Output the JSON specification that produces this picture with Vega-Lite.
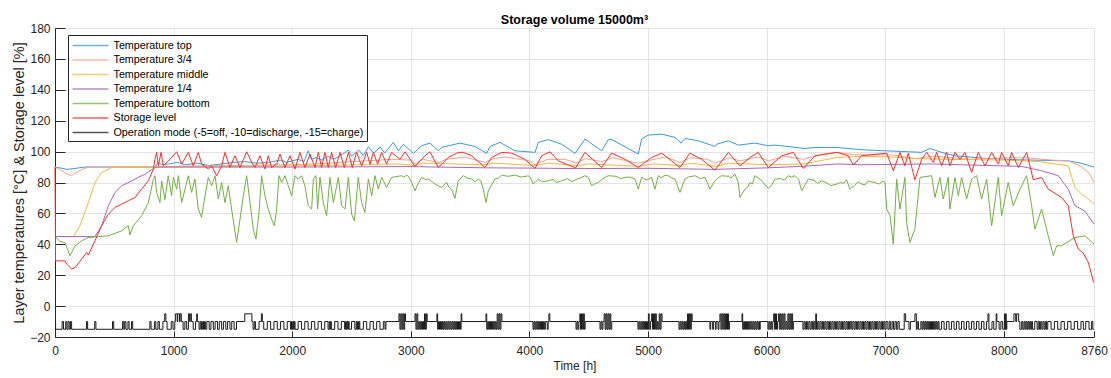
{
"$schema": "https://vega.github.io/schema/vega-lite/v6.json",
"width": 1039, "height": 309,
"autosize": {"type": "none"},
"padding": {"left": 55, "top": 28, "right": 17, "bottom": 41},
"background": "white",
"title": {"text": "Storage volume 15000m³", "font": "Liberation Sans", "fontSize": 12.5, "fontWeight": "bold", "color": "#000000", "anchor": "middle", "offset": 5, "dy": 9},
"config": {
  "view": {"stroke": null},
  "font": "Liberation Sans",
  "axis": {"domainColor": "#262626", "tickColor": "#262626", "labelColor": "#262626", "titleColor": "#262626", "labelFont": "Liberation Sans", "titleFont": "Liberation Sans", "labelFontSize": 12, "titleFontSize": 12, "titleFontWeight": "normal", "gridColor": "#e4e4e4", "gridWidth": 1, "domainWidth": 1, "tickWidth": 1}
},
"datasets": {
"temps": [
{"t":0,"s":"top","v":90},{"t":40,"s":"top","v":89.5},{"t":100,"s":"top","v":88.5},{"t":160,"s":"top","v":89},{"t":250,"s":"top","v":90},{"t":840,"s":"top","v":90},{"t":870,"s":"top","v":93},{"t":900,"s":"top","v":91.5},{"t":960,"s":"top","v":92},{"t":1030,"s":"top","v":93},{"t":1100,"s":"top","v":91.5},{"t":1200,"s":"top","v":92.5},{"t":1300,"s":"top","v":91},{"t":1400,"s":"top","v":92},{"t":1500,"s":"top","v":93},{"t":1600,"s":"top","v":93.5},{"t":1700,"s":"top","v":92.5},{"t":1800,"s":"top","v":93},{"t":1900,"s":"top","v":94.5},{"t":1950,"s":"top","v":93},{"t":2050,"s":"top","v":95},{"t":2100,"s":"top","v":93.5},{"t":2135,"s":"top","v":100.5},{"t":2160,"s":"top","v":95},{"t":2200,"s":"top","v":96},{"t":2250,"s":"top","v":94.5},{"t":2300,"s":"top","v":97},{"t":2350,"s":"top","v":95},{"t":2420,"s":"top","v":98},{"t":2473,"s":"top","v":101},{"t":2500,"s":"top","v":97},{"t":2560,"s":"top","v":101},{"t":2600,"s":"top","v":97.5},{"t":2642,"s":"top","v":103},{"t":2690,"s":"top","v":99},{"t":2740,"s":"top","v":103},{"t":2780,"s":"top","v":99},{"t":2852,"s":"top","v":106},{"t":2895,"s":"top","v":100.5},{"t":2937,"s":"top","v":104.8},{"t":3021,"s":"top","v":98.8},{"t":3091,"s":"top","v":103.8},{"t":3161,"s":"top","v":105.5},{"t":3232,"s":"top","v":100.5},{"t":3260,"s":"top","v":102.7},{"t":3414,"s":"top","v":105.5},{"t":3541,"s":"top","v":103.3},{"t":3639,"s":"top","v":98.8},{"t":3667,"s":"top","v":103.3},{"t":3752,"s":"top","v":106},{"t":3878,"s":"top","v":100.5},{"t":4047,"s":"top","v":99.5},{"t":4075,"s":"top","v":106},{"t":4159,"s":"top","v":107.7},{"t":4271,"s":"top","v":104.8},{"t":4384,"s":"top","v":98.8},{"t":4468,"s":"top","v":108.1},{"t":4609,"s":"top","v":100.5},{"t":4665,"s":"top","v":107.7},{"t":4690,"s":"top","v":108},{"t":4918,"s":"top","v":98.4},{"t":4946,"s":"top","v":108.1},{"t":5002,"s":"top","v":110.7},{"t":5115,"s":"top","v":111.3},{"t":5227,"s":"top","v":109.2},{"t":5278,"s":"top","v":105.5},{"t":5311,"s":"top","v":108.5},{"t":5424,"s":"top","v":107},{"t":5508,"s":"top","v":104.8},{"t":5564,"s":"top","v":103.3},{"t":5580,"s":"top","v":104.8},{"t":5677,"s":"top","v":107},{"t":5761,"s":"top","v":104.2},{"t":5901,"s":"top","v":105.5},{"t":6014,"s":"top","v":103.8},{"t":6070,"s":"top","v":104.2},{"t":6180,"s":"top","v":103.3},{"t":6323,"s":"top","v":102},{"t":6407,"s":"top","v":102.7},{"t":6593,"s":"top","v":102.7},{"t":6800,"s":"top","v":101.2},{"t":7000,"s":"top","v":100.5},{"t":7138,"s":"top","v":100.1},{"t":7307,"s":"top","v":99.5},{"t":7377,"s":"top","v":102},{"t":7475,"s":"top","v":99.5},{"t":7588,"s":"top","v":97.3},{"t":7841,"s":"top","v":95.6},{"t":8122,"s":"top","v":94.7},{"t":8543,"s":"top","v":94},{"t":8650,"s":"top","v":92.5},{"t":8760,"s":"top","v":90},
{"t":0,"s":"3/4","v":90},{"t":40,"s":"3/4","v":88.5},{"t":100,"s":"3/4","v":85.5},{"t":140,"s":"3/4","v":84.4},{"t":200,"s":"3/4","v":87.5},{"t":280,"s":"3/4","v":90},{"t":840,"s":"3/4","v":90},{"t":1000,"s":"3/4","v":90.5},{"t":1500,"s":"3/4","v":91},{"t":2000,"s":"3/4","v":91.5},{"t":2200,"s":"3/4","v":92},{"t":2500,"s":"3/4","v":93.5},{"t":2850,"s":"3/4","v":95},{"t":3000,"s":"3/4","v":94.5},{"t":3035,"s":"3/4","v":92},{"t":3100,"s":"3/4","v":95},{"t":3232,"s":"3/4","v":93},{"t":3300,"s":"3/4","v":95},{"t":3450,"s":"3/4","v":96.5},{"t":3625,"s":"3/4","v":93},{"t":3700,"s":"3/4","v":95.5},{"t":3800,"s":"3/4","v":96.5},{"t":4000,"s":"3/4","v":94},{"t":4047,"s":"3/4","v":91.5},{"t":4150,"s":"3/4","v":95},{"t":4300,"s":"3/4","v":95},{"t":4401,"s":"3/4","v":92.5},{"t":4470,"s":"3/4","v":95.5},{"t":4609,"s":"3/4","v":93.5},{"t":4700,"s":"3/4","v":96},{"t":4918,"s":"3/4","v":92.5},{"t":5050,"s":"3/4","v":95},{"t":5150,"s":"3/4","v":96.5},{"t":5269,"s":"3/4","v":93},{"t":5360,"s":"3/4","v":96},{"t":5500,"s":"3/4","v":95},{"t":5564,"s":"3/4","v":92.5},{"t":5680,"s":"3/4","v":96},{"t":5775,"s":"3/4","v":94},{"t":5930,"s":"3/4","v":96.5},{"t":6014,"s":"3/4","v":94},{"t":6150,"s":"3/4","v":97},{"t":6309,"s":"3/4","v":95},{"t":6450,"s":"3/4","v":98},{"t":6593,"s":"3/4","v":99.5},{"t":6731,"s":"3/4","v":98},{"t":7068,"s":"3/4","v":97.8},{"t":7250,"s":"3/4","v":95.5},{"t":7400,"s":"3/4","v":97},{"t":7728,"s":"3/4","v":95},{"t":8000,"s":"3/4","v":96},{"t":8192,"s":"3/4","v":96},{"t":8400,"s":"3/4","v":94.5},{"t":8543,"s":"3/4","v":94},{"t":8650,"s":"3/4","v":90.5},{"t":8720,"s":"3/4","v":86},{"t":8760,"s":"3/4","v":80},
{"t":0,"s":"middle","v":45},{"t":155,"s":"middle","v":45},{"t":210,"s":"middle","v":52},{"t":281,"s":"middle","v":67},{"t":337,"s":"middle","v":80},{"t":393,"s":"middle","v":86.5},{"t":478,"s":"middle","v":89.7},{"t":520,"s":"middle","v":90},{"t":840,"s":"middle","v":90},{"t":1500,"s":"middle","v":90.3},{"t":2200,"s":"middle","v":91},{"t":2900,"s":"middle","v":92},{"t":3035,"s":"middle","v":91},{"t":3100,"s":"middle","v":92.5},{"t":3625,"s":"middle","v":91.5},{"t":3700,"s":"middle","v":92.5},{"t":4047,"s":"middle","v":91},{"t":4150,"s":"middle","v":92.5},{"t":4400,"s":"middle","v":91},{"t":4500,"s":"middle","v":92},{"t":4918,"s":"middle","v":90.5},{"t":5050,"s":"middle","v":92},{"t":5269,"s":"middle","v":91},{"t":5360,"s":"middle","v":92.5},{"t":5564,"s":"middle","v":90.5},{"t":5680,"s":"middle","v":92.5},{"t":6014,"s":"middle","v":91.5},{"t":6309,"s":"middle","v":92},{"t":6593,"s":"middle","v":96.2},{"t":6800,"s":"middle","v":97},{"t":7068,"s":"middle","v":96.5},{"t":7250,"s":"middle","v":95.5},{"t":7500,"s":"middle","v":95},{"t":8000,"s":"middle","v":94.5},{"t":8300,"s":"middle","v":93.5},{"t":8543,"s":"middle","v":90.8},{"t":8599,"s":"middle","v":76.8},{"t":8655,"s":"middle","v":72.5},{"t":8700,"s":"middle","v":70},{"t":8760,"s":"middle","v":66},
{"t":0,"s":"1/4","v":45},{"t":337,"s":"1/4","v":45},{"t":393,"s":"1/4","v":52},{"t":450,"s":"1/4","v":65},{"t":506,"s":"1/4","v":73.6},{"t":562,"s":"1/4","v":77.9},{"t":646,"s":"1/4","v":81},{"t":702,"s":"1/4","v":83.3},{"t":759,"s":"1/4","v":85.4},{"t":829,"s":"1/4","v":89},{"t":860,"s":"1/4","v":90},{"t":2000,"s":"1/4","v":90},{"t":3000,"s":"1/4","v":90.3},{"t":3625,"s":"1/4","v":89.5},{"t":4047,"s":"1/4","v":89.3},{"t":4401,"s":"1/4","v":89},{"t":5000,"s":"1/4","v":89.2},{"t":5564,"s":"1/4","v":88.5},{"t":6014,"s":"1/4","v":89.5},{"t":6309,"s":"1/4","v":90.5},{"t":6593,"s":"1/4","v":92},{"t":6800,"s":"1/4","v":91.5},{"t":7400,"s":"1/4","v":92},{"t":8150,"s":"1/4","v":90.4},{"t":8318,"s":"1/4","v":87.6},{"t":8459,"s":"1/4","v":84.4},{"t":8543,"s":"1/4","v":75.7},{"t":8599,"s":"1/4","v":65},{"t":8680,"s":"1/4","v":61.7},{"t":8760,"s":"1/4","v":53.1},
{"t":0,"s":"bottom","v":45},{"t":40,"s":"bottom","v":42},{"t":85,"s":"bottom","v":41},{"t":126,"s":"bottom","v":32.6},{"t":169,"s":"bottom","v":39},{"t":225,"s":"bottom","v":42.3},{"t":281,"s":"bottom","v":44.4},{"t":365,"s":"bottom","v":45},{"t":450,"s":"bottom","v":45.5},{"t":562,"s":"bottom","v":48.7},{"t":618,"s":"bottom","v":52},{"t":632,"s":"bottom","v":46},{"t":660,"s":"bottom","v":52},{"t":730,"s":"bottom","v":58.5},{"t":787,"s":"bottom","v":67},{"t":829,"s":"bottom","v":82},{"t":843,"s":"bottom","v":84.4},{"t":857,"s":"bottom","v":73.6},{"t":885,"s":"bottom","v":67},{"t":899,"s":"bottom","v":81},{"t":927,"s":"bottom","v":69},{"t":955,"s":"bottom","v":84.4},{"t":983,"s":"bottom","v":71.4},{"t":998,"s":"bottom","v":83.3},{"t":1026,"s":"bottom","v":75.7},{"t":1040,"s":"bottom","v":84.4},{"t":1068,"s":"bottom","v":67},{"t":1096,"s":"bottom","v":75.7},{"t":1124,"s":"bottom","v":84.4},{"t":1152,"s":"bottom","v":73.6},{"t":1180,"s":"bottom","v":82.2},{"t":1208,"s":"bottom","v":62.8},{"t":1236,"s":"bottom","v":57.4},{"t":1265,"s":"bottom","v":71.4},{"t":1293,"s":"bottom","v":83.3},{"t":1321,"s":"bottom","v":77.9},{"t":1349,"s":"bottom","v":84.4},{"t":1377,"s":"bottom","v":69.3},{"t":1405,"s":"bottom","v":80},{"t":1433,"s":"bottom","v":67},{"t":1461,"s":"bottom","v":77.9},{"t":1489,"s":"bottom","v":62.8},{"t":1531,"s":"bottom","v":41.2},{"t":1560,"s":"bottom","v":56.3},{"t":1588,"s":"bottom","v":71.4},{"t":1616,"s":"bottom","v":84.4},{"t":1644,"s":"bottom","v":67},{"t":1672,"s":"bottom","v":49.8},{"t":1694,"s":"bottom","v":43.4},{"t":1720,"s":"bottom","v":60.6},{"t":1742,"s":"bottom","v":84.4},{"t":1770,"s":"bottom","v":71.4},{"t":1798,"s":"bottom","v":62.8},{"t":1826,"s":"bottom","v":56.3},{"t":1849,"s":"bottom","v":52},{"t":1869,"s":"bottom","v":62.8},{"t":1888,"s":"bottom","v":84.4},{"t":1911,"s":"bottom","v":80},{"t":1939,"s":"bottom","v":84.4},{"t":1967,"s":"bottom","v":77.9},{"t":1995,"s":"bottom","v":71.4},{"t":2023,"s":"bottom","v":84.4},{"t":2051,"s":"bottom","v":82.2},{"t":2079,"s":"bottom","v":84.4},{"t":2107,"s":"bottom","v":77.9},{"t":2135,"s":"bottom","v":65},{"t":2164,"s":"bottom","v":62.8},{"t":2178,"s":"bottom","v":82.2},{"t":2200,"s":"bottom","v":84.4},{"t":2214,"s":"bottom","v":63},{"t":2234,"s":"bottom","v":83.3},{"t":2262,"s":"bottom","v":67},{"t":2290,"s":"bottom","v":58.5},{"t":2318,"s":"bottom","v":83.3},{"t":2347,"s":"bottom","v":67},{"t":2389,"s":"bottom","v":83.3},{"t":2417,"s":"bottom","v":65},{"t":2445,"s":"bottom","v":62.8},{"t":2473,"s":"bottom","v":83.3},{"t":2501,"s":"bottom","v":59.5},{"t":2524,"s":"bottom","v":55.2},{"t":2557,"s":"bottom","v":83.3},{"t":2585,"s":"bottom","v":67},{"t":2613,"s":"bottom","v":60.6},{"t":2642,"s":"bottom","v":82.2},{"t":2670,"s":"bottom","v":71.4},{"t":2698,"s":"bottom","v":84.4},{"t":2726,"s":"bottom","v":75.7},{"t":2754,"s":"bottom","v":83.3},{"t":2796,"s":"bottom","v":76.8},{"t":2838,"s":"bottom","v":83.3},{"t":2923,"s":"bottom","v":84.4},{"t":2940,"s":"bottom","v":83.5},{"t":2965,"s":"bottom","v":84.8},{"t":2980,"s":"bottom","v":84},{"t":3007,"s":"bottom","v":80},{"t":3035,"s":"bottom","v":74.6},{"t":3060,"s":"bottom","v":79},{"t":3091,"s":"bottom","v":83.3},{"t":3120,"s":"bottom","v":82},{"t":3147,"s":"bottom","v":82.2},{"t":3180,"s":"bottom","v":80.5},{"t":3204,"s":"bottom","v":79},{"t":3230,"s":"bottom","v":78},{"t":3260,"s":"bottom","v":76.8},{"t":3280,"s":"bottom","v":78.5},{"t":3302,"s":"bottom","v":80},{"t":3320,"s":"bottom","v":77},{"t":3344,"s":"bottom","v":75.7},{"t":3372,"s":"bottom","v":69.7},{"t":3400,"s":"bottom","v":81.1},{"t":3442,"s":"bottom","v":84.4},{"t":3470,"s":"bottom","v":83},{"t":3513,"s":"bottom","v":82.2},{"t":3540,"s":"bottom","v":80.5},{"t":3569,"s":"bottom","v":82.2},{"t":3590,"s":"bottom","v":81},{"t":3611,"s":"bottom","v":75.7},{"t":3634,"s":"bottom","v":67},{"t":3653,"s":"bottom","v":74.6},{"t":3709,"s":"bottom","v":82.2},{"t":3740,"s":"bottom","v":83},{"t":3766,"s":"bottom","v":84.8},{"t":3820,"s":"bottom","v":84},{"t":3878,"s":"bottom","v":84.8},{"t":3930,"s":"bottom","v":83.5},{"t":3990,"s":"bottom","v":84.3},{"t":4010,"s":"bottom","v":83},{"t":4032,"s":"bottom","v":79},{"t":4075,"s":"bottom","v":82.2},{"t":4110,"s":"bottom","v":80.5},{"t":4159,"s":"bottom","v":81.1},{"t":4200,"s":"bottom","v":82},{"t":4230,"s":"bottom","v":80},{"t":4271,"s":"bottom","v":81.1},{"t":4320,"s":"bottom","v":82.5},{"t":4360,"s":"bottom","v":80.5},{"t":4401,"s":"bottom","v":82.2},{"t":4430,"s":"bottom","v":83},{"t":4468,"s":"bottom","v":84.4},{"t":4496,"s":"bottom","v":83.3},{"t":4525,"s":"bottom","v":77.9},{"t":4550,"s":"bottom","v":79},{"t":4581,"s":"bottom","v":80},{"t":4620,"s":"bottom","v":82.5},{"t":4665,"s":"bottom","v":84.4},{"t":4730,"s":"bottom","v":84},{"t":4770,"s":"bottom","v":82.5},{"t":4806,"s":"bottom","v":83.3},{"t":4850,"s":"bottom","v":83.5},{"t":4890,"s":"bottom","v":82.2},{"t":4918,"s":"bottom","v":75.7},{"t":4946,"s":"bottom","v":83.3},{"t":4990,"s":"bottom","v":81.5},{"t":5030,"s":"bottom","v":83.3},{"t":5058,"s":"bottom","v":75.7},{"t":5087,"s":"bottom","v":84.4},{"t":5110,"s":"bottom","v":83},{"t":5140,"s":"bottom","v":84.5},{"t":5171,"s":"bottom","v":84.4},{"t":5200,"s":"bottom","v":83},{"t":5227,"s":"bottom","v":82.2},{"t":5269,"s":"bottom","v":73.6},{"t":5311,"s":"bottom","v":82.2},{"t":5340,"s":"bottom","v":83.5},{"t":5396,"s":"bottom","v":84.4},{"t":5440,"s":"bottom","v":82.5},{"t":5480,"s":"bottom","v":83.3},{"t":5500,"s":"bottom","v":80},{"t":5522,"s":"bottom","v":75.7},{"t":5564,"s":"bottom","v":81.1},{"t":5590,"s":"bottom","v":83},{"t":5620,"s":"bottom","v":84.4},{"t":5680,"s":"bottom","v":84},{"t":5700,"s":"bottom","v":83},{"t":5733,"s":"bottom","v":85.4},{"t":5761,"s":"bottom","v":80},{"t":5775,"s":"bottom","v":70.3},{"t":5817,"s":"bottom","v":75.7},{"t":5840,"s":"bottom","v":77},{"t":5859,"s":"bottom","v":80},{"t":5880,"s":"bottom","v":79},{"t":5901,"s":"bottom","v":84.4},{"t":5944,"s":"bottom","v":82.2},{"t":5970,"s":"bottom","v":80},{"t":6014,"s":"bottom","v":76.2},{"t":6040,"s":"bottom","v":78},{"t":6070,"s":"bottom","v":82.2},{"t":6120,"s":"bottom","v":82.5},{"t":6150,"s":"bottom","v":81.5},{"t":6182,"s":"bottom","v":84.4},{"t":6210,"s":"bottom","v":83.5},{"t":6239,"s":"bottom","v":84.4},{"t":6270,"s":"bottom","v":82},{"t":6295,"s":"bottom","v":74.6},{"t":6320,"s":"bottom","v":78},{"t":6351,"s":"bottom","v":82.2},{"t":6400,"s":"bottom","v":81.5},{"t":6430,"s":"bottom","v":79.5},{"t":6463,"s":"bottom","v":81.1},{"t":6500,"s":"bottom","v":80},{"t":6540,"s":"bottom","v":78},{"t":6593,"s":"bottom","v":79},{"t":6620,"s":"bottom","v":80},{"t":6650,"s":"bottom","v":79.5},{"t":6674,"s":"bottom","v":81.8},{"t":6702,"s":"bottom","v":75.7},{"t":6740,"s":"bottom","v":78},{"t":6770,"s":"bottom","v":80.5},{"t":6801,"s":"bottom","v":79},{"t":6830,"s":"bottom","v":78.5},{"t":6857,"s":"bottom","v":81.1},{"t":6880,"s":"bottom","v":80.5},{"t":6913,"s":"bottom","v":80},{"t":6950,"s":"bottom","v":79},{"t":6980,"s":"bottom","v":81},{"t":6998,"s":"bottom","v":80},{"t":7012,"s":"bottom","v":62.8},{"t":7040,"s":"bottom","v":58.5},{"t":7068,"s":"bottom","v":40.1},{"t":7096,"s":"bottom","v":82.2},{"t":7124,"s":"bottom","v":62.8},{"t":7166,"s":"bottom","v":83.3},{"t":7180,"s":"bottom","v":54.1},{"t":7208,"s":"bottom","v":41.2},{"t":7250,"s":"bottom","v":49.8},{"t":7293,"s":"bottom","v":83.3},{"t":7391,"s":"bottom","v":84.4},{"t":7419,"s":"bottom","v":70.3},{"t":7461,"s":"bottom","v":83.3},{"t":7489,"s":"bottom","v":69.3},{"t":7531,"s":"bottom","v":83.3},{"t":7545,"s":"bottom","v":62.8},{"t":7588,"s":"bottom","v":83.3},{"t":7616,"s":"bottom","v":71.4},{"t":7644,"s":"bottom","v":83.3},{"t":7686,"s":"bottom","v":69.3},{"t":7728,"s":"bottom","v":82.2},{"t":7770,"s":"bottom","v":84.4},{"t":7812,"s":"bottom","v":69.3},{"t":7855,"s":"bottom","v":82.2},{"t":7897,"s":"bottom","v":52},{"t":7953,"s":"bottom","v":83.3},{"t":7981,"s":"bottom","v":58.5},{"t":8037,"s":"bottom","v":80},{"t":8079,"s":"bottom","v":65},{"t":8136,"s":"bottom","v":75.7},{"t":8192,"s":"bottom","v":84.4},{"t":8234,"s":"bottom","v":65},{"t":8262,"s":"bottom","v":49.8},{"t":8318,"s":"bottom","v":62.8},{"t":8374,"s":"bottom","v":45.5},{"t":8417,"s":"bottom","v":32.6},{"t":8445,"s":"bottom","v":39},{"t":8487,"s":"bottom","v":39},{"t":8599,"s":"bottom","v":44.4},{"t":8684,"s":"bottom","v":45.5},{"t":8760,"s":"bottom","v":40.1},
{"t":0,"s":"level","v":90},{"t":5,"s":"level","v":29.3},{"t":84,"s":"level","v":29.3},{"t":98,"s":"level","v":27.2},{"t":140,"s":"level","v":24},{"t":169,"s":"level","v":25},{"t":225,"s":"level","v":30.4},{"t":267,"s":"level","v":34.7},{"t":281,"s":"level","v":33},{"t":337,"s":"level","v":42.3},{"t":393,"s":"level","v":52},{"t":450,"s":"level","v":59.5},{"t":506,"s":"level","v":63.9},{"t":562,"s":"level","v":66},{"t":618,"s":"level","v":68.2},{"t":674,"s":"level","v":70.3},{"t":730,"s":"level","v":75.7},{"t":787,"s":"level","v":81.1},{"t":829,"s":"level","v":88.7},{"t":843,"s":"level","v":95.1},{"t":857,"s":"level","v":99.5},{"t":871,"s":"level","v":90.8},{"t":894,"s":"level","v":99.5},{"t":913,"s":"level","v":90.8},{"t":969,"s":"level","v":95},{"t":1026,"s":"level","v":99.9},{"t":1068,"s":"level","v":91.9},{"t":1124,"s":"level","v":99.5},{"t":1166,"s":"level","v":90.8},{"t":1208,"s":"level","v":99.5},{"t":1236,"s":"level","v":92},{"t":1293,"s":"level","v":88.7},{"t":1321,"s":"level","v":90.8},{"t":1363,"s":"level","v":84.4},{"t":1405,"s":"level","v":90.8},{"t":1433,"s":"level","v":99.5},{"t":1475,"s":"level","v":89.7},{"t":1517,"s":"level","v":97.3},{"t":1560,"s":"level","v":89.7},{"t":1616,"s":"level","v":99.9},{"t":1658,"s":"level","v":93},{"t":1686,"s":"level","v":89.7},{"t":1728,"s":"level","v":97.3},{"t":1770,"s":"level","v":88.7},{"t":1798,"s":"level","v":97.3},{"t":1826,"s":"level","v":89.7},{"t":1869,"s":"level","v":92},{"t":1897,"s":"level","v":98.4},{"t":1939,"s":"level","v":89.7},{"t":1981,"s":"level","v":97.3},{"t":2023,"s":"level","v":88.7},{"t":2065,"s":"level","v":99.5},{"t":2107,"s":"level","v":89.7},{"t":2150,"s":"level","v":98.4},{"t":2192,"s":"level","v":89.7},{"t":2220,"s":"level","v":99.5},{"t":2248,"s":"level","v":89.7},{"t":2276,"s":"level","v":99.5},{"t":2304,"s":"level","v":89.7},{"t":2332,"s":"level","v":99.5},{"t":2366,"s":"level","v":89.7},{"t":2403,"s":"level","v":99.5},{"t":2439,"s":"level","v":89.7},{"t":2473,"s":"level","v":99.5},{"t":2507,"s":"level","v":89.7},{"t":2543,"s":"level","v":99.5},{"t":2585,"s":"level","v":90.8},{"t":2628,"s":"level","v":99.5},{"t":2656,"s":"level","v":91.9},{"t":2684,"s":"level","v":99.5},{"t":2720,"s":"level","v":91.9},{"t":2754,"s":"level","v":99.5},{"t":2796,"s":"level","v":92},{"t":2838,"s":"level","v":99.5},{"t":2909,"s":"level","v":95},{"t":2951,"s":"level","v":99.9},{"t":3035,"s":"level","v":90.4},{"t":3119,"s":"level","v":97.3},{"t":3161,"s":"level","v":99.9},{"t":3232,"s":"level","v":89.7},{"t":3316,"s":"level","v":96.2},{"t":3400,"s":"level","v":99.5},{"t":3442,"s":"level","v":99.5},{"t":3513,"s":"level","v":97.3},{"t":3625,"s":"level","v":89.7},{"t":3681,"s":"level","v":96.2},{"t":3766,"s":"level","v":99.5},{"t":3850,"s":"level","v":99},{"t":3962,"s":"level","v":95},{"t":4047,"s":"level","v":89.1},{"t":4103,"s":"level","v":97.3},{"t":4173,"s":"level","v":99.9},{"t":4243,"s":"level","v":94},{"t":4328,"s":"level","v":91.3},{"t":4390,"s":"level","v":89.5},{"t":4468,"s":"level","v":99.5},{"t":4609,"s":"level","v":89.7},{"t":4693,"s":"level","v":99},{"t":4806,"s":"level","v":95},{"t":4918,"s":"level","v":89.7},{"t":5030,"s":"level","v":96.2},{"t":5115,"s":"level","v":99},{"t":5199,"s":"level","v":94},{"t":5269,"s":"level","v":89.7},{"t":5353,"s":"level","v":99},{"t":5452,"s":"level","v":95},{"t":5564,"s":"level","v":88},{"t":5677,"s":"level","v":99.5},{"t":5775,"s":"level","v":90.8},{"t":5860,"s":"level","v":96.2},{"t":5929,"s":"level","v":99.5},{"t":6014,"s":"level","v":89.7},{"t":6126,"s":"level","v":97.3},{"t":6225,"s":"level","v":99.5},{"t":6309,"s":"level","v":89.1},{"t":6407,"s":"level","v":97.3},{"t":6593,"s":"level","v":99.5},{"t":6688,"s":"level","v":97.3},{"t":6731,"s":"level","v":91.3},{"t":6801,"s":"level","v":97.3},{"t":7012,"s":"level","v":99},{"t":7068,"s":"level","v":87.6},{"t":7124,"s":"level","v":99.5},{"t":7166,"s":"level","v":90.8},{"t":7194,"s":"level","v":99},{"t":7250,"s":"level","v":81.8},{"t":7307,"s":"level","v":95},{"t":7349,"s":"level","v":99.5},{"t":7405,"s":"level","v":93},{"t":7433,"s":"level","v":99.5},{"t":7475,"s":"level","v":90.8},{"t":7517,"s":"level","v":99.5},{"t":7545,"s":"level","v":90.8},{"t":7588,"s":"level","v":99.5},{"t":7630,"s":"level","v":95},{"t":7672,"s":"level","v":99.5},{"t":7728,"s":"level","v":86.5},{"t":7784,"s":"level","v":99.5},{"t":7841,"s":"level","v":90.8},{"t":7897,"s":"level","v":99.5},{"t":7953,"s":"level","v":91.9},{"t":7981,"s":"level","v":99.5},{"t":8037,"s":"level","v":90.8},{"t":8065,"s":"level","v":99.5},{"t":8122,"s":"level","v":89.7},{"t":8192,"s":"level","v":99.5},{"t":8248,"s":"level","v":81.8},{"t":8318,"s":"level","v":83.3},{"t":8374,"s":"level","v":75.7},{"t":8487,"s":"level","v":70.3},{"t":8543,"s":"level","v":65},{"t":8585,"s":"level","v":45.5},{"t":8627,"s":"level","v":36.9},{"t":8669,"s":"level","v":34.3},{"t":8712,"s":"level","v":28.3},{"t":8757,"s":"level","v":15.3}
],
"op": [
{"t":0,"v":-10},{"t":5,"v":-15},{"t":60,"v":-10},{"t":72,"v":-15},{"t":90,"v":-10},{"t":100,"v":-15},{"t":110,"v":-10},{"t":120,"v":-15},{"t":130,"v":-10},{"t":140,"v":-15},{"t":265,"v":-10},{"t":275,"v":-15},{"t":335,"v":-10},{"t":345,"v":-15},{"t":485,"v":-10},{"t":495,"v":-15},{"t":570,"v":-10},{"t":580,"v":-15},{"t":588,"v":-10},{"t":598,"v":-15},{"t":615,"v":-10},{"t":625,"v":-15},{"t":645,"v":-10},{"t":655,"v":-15},{"t":800,"v":-10},{"t":810,"v":-15},{"t":840,"v":-10},{"t":850,"v":-15},{"t":868,"v":-10},{"t":880,"v":-15},{"t":910,"v":-10},{"t":925,"v":-5},{"t":935,"v":-10},{"t":945,"v":-15},{"t":980,"v":-10},{"t":995,"v":-15},{"t":1010,"v":-10},{"t":1015,"v":-5},{"t":1030,"v":-10},{"t":1035,"v":-5},{"t":1050,"v":-10},{"t":1055,"v":-5},{"t":1065,"v":-10},{"t":1080,"v":-15},{"t":1095,"v":-10},{"t":1110,"v":-15},{"t":1125,"v":-5},{"t":1135,"v":-10},{"t":1140,"v":-5},{"t":1150,"v":-10},{"t":1165,"v":-15},{"t":1185,"v":-10},{"t":1195,"v":-5},{"t":1200,"v":-10},{"t":1215,"v":-15},{"t":1225,"v":-10},{"t":1235,"v":-15},{"t":1245,"v":-10},{"t":1252,"v":-15},{"t":1260,"v":-10},{"t":1268,"v":-15},{"t":1280,"v":-10},{"t":1300,"v":-15},{"t":1315,"v":-10},{"t":1335,"v":-15},{"t":1350,"v":-10},{"t":1370,"v":-15},{"t":1385,"v":-10},{"t":1405,"v":-15},{"t":1420,"v":-10},{"t":1440,"v":-15},{"t":1455,"v":-10},{"t":1475,"v":-15},{"t":1490,"v":-10},{"t":1510,"v":-15},{"t":1530,"v":-10},{"t":1600,"v":-5},{"t":1660,"v":-10},{"t":1670,"v":-15},{"t":1680,"v":-10},{"t":1690,"v":-15},{"t":1720,"v":-10},{"t":1740,"v":-5},{"t":1748,"v":-10},{"t":1760,"v":-15},
{"t":1790,"v":-10},{"t":1818,"v":-15},{"t":1846,"v":-10},{"t":1874,"v":-15},{"t":1902,"v":-10},{"t":1930,"v":-15},{"t":1958,"v":-10},{"t":1986,"v":-15},{"t":1994,"v":-10},{"t":2000,"v":-15},{"t":2006,"v":-10},{"t":2012,"v":-15},{"t":2018,"v":-10},{"t":2024,"v":-15},{"t":2050,"v":-10},{"t":2078,"v":-15},{"t":2106,"v":-10},{"t":2134,"v":-15},{"t":2162,"v":-10},{"t":2190,"v":-15},{"t":2218,"v":-10},{"t":2246,"v":-15},{"t":2274,"v":-10},{"t":2302,"v":-15},{"t":2312,"v":-10},{"t":2318,"v":-15},{"t":2324,"v":-10},{"t":2330,"v":-15},{"t":2358,"v":-10},{"t":2386,"v":-15},{"t":2414,"v":-10},{"t":2442,"v":-15},{"t":2450,"v":-10},{"t":2456,"v":-15},{"t":2462,"v":-10},{"t":2468,"v":-15},{"t":2474,"v":-10},{"t":2480,"v":-15},{"t":2500,"v":-10},{"t":2528,"v":-15},{"t":2540,"v":-10},{"t":2546,"v":-15},{"t":2552,"v":-10},{"t":2558,"v":-15},{"t":2564,"v":-10},{"t":2570,"v":-15},{"t":2600,"v":-10},{"t":2628,"v":-15},{"t":2656,"v":-10},{"t":2684,"v":-15},{"t":2712,"v":-10},{"t":2740,"v":-15},{"t":2768,"v":-10},{"t":2782,"v":-15},{"t":2790,"v":-10},
{"t":2900,"v":-5},{"t":2908,"v":-15},{"t":2916,"v":-5},{"t":2924,"v":-15},{"t":2932,"v":-5},{"t":2940,"v":-15},{"t":2948,"v":-5},{"t":2955,"v":-10},
{"t":3035,"v":-5},{"t":3043,"v":-15},{"t":3051,"v":-5},{"t":3059,"v":-15},{"t":3067,"v":-10},{"t":3075,"v":-15},{"t":3083,"v":-10},{"t":3091,"v":-15},{"t":3099,"v":-10},{"t":3107,"v":-15},{"t":3115,"v":-5},{"t":3123,"v":-15},{"t":3131,"v":-5},{"t":3138,"v":-10},
{"t":3220,"v":-5},{"t":3226,"v":-15},{"t":3234,"v":-10},{"t":3242,"v":-15},{"t":3250,"v":-10},{"t":3258,"v":-15},{"t":3266,"v":-10},{"t":3274,"v":-15},{"t":3282,"v":-10},{"t":3290,"v":-15},{"t":3298,"v":-10},{"t":3306,"v":-15},{"t":3314,"v":-10},{"t":3322,"v":-15},{"t":3330,"v":-10},{"t":3338,"v":-15},{"t":3346,"v":-10},{"t":3354,"v":-15},{"t":3362,"v":-10},{"t":3370,"v":-15},{"t":3378,"v":-10},{"t":3386,"v":-15},{"t":3394,"v":-10},{"t":3402,"v":-15},{"t":3410,"v":-10},{"t":3418,"v":-15},{"t":3424,"v":-5},{"t":3430,"v":-10},
{"t":3634,"v":-5},{"t":3640,"v":-15},{"t":3648,"v":-10},{"t":3656,"v":-15},{"t":3664,"v":-10},{"t":3672,"v":-15},{"t":3680,"v":-10},{"t":3688,"v":-15},{"t":3696,"v":-10},{"t":3704,"v":-15},{"t":3712,"v":-10},{"t":3720,"v":-15},{"t":3728,"v":-5},{"t":3736,"v":-15},{"t":3744,"v":-5},{"t":3752,"v":-15},{"t":3760,"v":-5},{"t":3768,"v":-10},
{"t":4030,"v":-15},{"t":4038,"v":-10},{"t":4046,"v":-15},{"t":4054,"v":-10},{"t":4062,"v":-15},{"t":4070,"v":-10},{"t":4078,"v":-15},{"t":4086,"v":-10},{"t":4094,"v":-15},{"t":4102,"v":-10},{"t":4110,"v":-15},{"t":4118,"v":-10},{"t":4126,"v":-15},{"t":4134,"v":-10},{"t":4150,"v":-15},{"t":4158,"v":-10},{"t":4164,"v":-5},{"t":4172,"v":-10},
{"t":4393,"v":-15},{"t":4401,"v":-10},{"t":4409,"v":-15},{"t":4417,"v":-10},{"t":4425,"v":-5},{"t":4431,"v":-15},{"t":4439,"v":-5},{"t":4447,"v":-15},{"t":4455,"v":-5},{"t":4463,"v":-15},{"t":4470,"v":-10},
{"t":4595,"v":-15},{"t":4603,"v":-10},{"t":4612,"v":-15},{"t":4620,"v":-10},{"t":4630,"v":-5},{"t":4638,"v":-15},{"t":4646,"v":-5},{"t":4654,"v":-15},{"t":4662,"v":-5},{"t":4670,"v":-15},{"t":4678,"v":-5},{"t":4686,"v":-15},{"t":4694,"v":-10},
{"t":4915,"v":-15},{"t":4923,"v":-10},{"t":4931,"v":-15},{"t":4939,"v":-10},{"t":4947,"v":-15},{"t":4955,"v":-10},{"t":4963,"v":-15},{"t":4971,"v":-10},{"t":4979,"v":-15},{"t":4987,"v":-10},{"t":4995,"v":-15},{"t":5003,"v":-5},{"t":5010,"v":-15},{"t":5020,"v":-10},{"t":5030,"v":-5},{"t":5038,"v":-15},{"t":5046,"v":-5},{"t":5054,"v":-15},{"t":5062,"v":-5},{"t":5070,"v":-15},{"t":5078,"v":-10},{"t":5086,"v":-15},{"t":5094,"v":-5},{"t":5102,"v":-15},{"t":5110,"v":-5},{"t":5118,"v":-10},
{"t":5261,"v":-15},{"t":5269,"v":-10},{"t":5277,"v":-15},{"t":5285,"v":-10},{"t":5293,"v":-15},{"t":5301,"v":-10},{"t":5309,"v":-15},{"t":5317,"v":-10},{"t":5325,"v":-15},{"t":5333,"v":-5},{"t":5341,"v":-15},{"t":5349,"v":-5},{"t":5357,"v":-15},{"t":5365,"v":-5},{"t":5372,"v":-10},
{"t":5522,"v":-15},{"t":5528,"v":-10},{"t":5545,"v":-15},{"t":5551,"v":-10},{"t":5568,"v":-15},{"t":5574,"v":-10},{"t":5590,"v":-15},{"t":5598,"v":-10},{"t":5606,"v":-5},{"t":5614,"v":-15},{"t":5622,"v":-5},{"t":5630,"v":-15},{"t":5638,"v":-5},{"t":5646,"v":-15},{"t":5654,"v":-5},{"t":5662,"v":-15},{"t":5670,"v":-5},{"t":5678,"v":-15},{"t":5686,"v":-10},
{"t":5792,"v":-5},{"t":5798,"v":-15},{"t":5806,"v":-10},{"t":5814,"v":-15},{"t":5822,"v":-10},{"t":5830,"v":-15},{"t":5838,"v":-10},{"t":5846,"v":-15},{"t":5854,"v":-10},{"t":5862,"v":-15},{"t":5870,"v":-10},{"t":5878,"v":-15},{"t":5886,"v":-10},{"t":5894,"v":-15},{"t":5902,"v":-10},{"t":5910,"v":-15},{"t":5918,"v":-10},{"t":5926,"v":-15},{"t":5934,"v":-10},{"t":5940,"v":-15},{"t":5946,"v":-10},
{"t":6011,"v":-15},{"t":6019,"v":-10},{"t":6027,"v":-15},{"t":6035,"v":-10},{"t":6043,"v":-15},{"t":6051,"v":-10},{"t":6059,"v":-5},{"t":6067,"v":-15},{"t":6075,"v":-5},{"t":6083,"v":-15},{"t":6091,"v":-10},{"t":6099,"v":-5},{"t":6107,"v":-15},{"t":6115,"v":-5},{"t":6123,"v":-15},{"t":6131,"v":-5},{"t":6139,"v":-15},{"t":6147,"v":-5},{"t":6155,"v":-15},{"t":6163,"v":-10},{"t":6171,"v":-15},{"t":6179,"v":-5},{"t":6187,"v":-15},{"t":6195,"v":-5},{"t":6203,"v":-15},{"t":6211,"v":-5},{"t":6219,"v":-15},{"t":6225,"v":-10},
{"t":6306,"v":-15},{"t":6316,"v":-10},{"t":6326,"v":-15},{"t":6336,"v":-10},{"t":6346,"v":-15},{"t":6356,"v":-10},{"t":6366,"v":-15},{"t":6376,"v":-10},{"t":6386,"v":-15},{"t":6396,"v":-10},{"t":6406,"v":-15},{"t":6414,"v":-5},{"t":6420,"v":-15},{"t":6430,"v":-10},{"t":6440,"v":-15},{"t":6450,"v":-10},{"t":6460,"v":-15},{"t":6470,"v":-10},{"t":6480,"v":-15},{"t":6490,"v":-10},{"t":6500,"v":-15},{"t":6510,"v":-10},{"t":6520,"v":-15},{"t":6530,"v":-10},{"t":6540,"v":-15},{"t":6550,"v":-10},{"t":6560,"v":-15},{"t":6570,"v":-10},{"t":6580,"v":-15},{"t":6590,"v":-10},{"t":6600,"v":-15},{"t":6610,"v":-10},{"t":6620,"v":-15},{"t":6630,"v":-10},{"t":6640,"v":-15},{"t":6650,"v":-10},{"t":6660,"v":-15},{"t":6670,"v":-10},{"t":6680,"v":-15},{"t":6690,"v":-10},{"t":6700,"v":-15},{"t":6705,"v":-10},
{"t":6717,"v":-15},{"t":6727,"v":-10},{"t":6737,"v":-15},{"t":6747,"v":-10},{"t":6757,"v":-15},{"t":6767,"v":-10},{"t":6777,"v":-15},{"t":6787,"v":-10},{"t":6797,"v":-15},{"t":6807,"v":-10},{"t":6817,"v":-15},{"t":6827,"v":-10},{"t":6837,"v":-15},{"t":6847,"v":-10},{"t":6857,"v":-15},{"t":6867,"v":-10},{"t":6877,"v":-15},{"t":6887,"v":-10},{"t":6897,"v":-15},{"t":6907,"v":-10},{"t":6917,"v":-15},{"t":6927,"v":-10},{"t":6937,"v":-15},{"t":6947,"v":-10},{"t":6957,"v":-15},{"t":6967,"v":-10},{"t":6977,"v":-15},{"t":6987,"v":-10},{"t":6997,"v":-15},{"t":7007,"v":-10},
{"t":7022,"v":-15},{"t":7034,"v":-10},{"t":7046,"v":-15},{"t":7058,"v":-10},{"t":7070,"v":-15},{"t":7082,"v":-10},{"t":7094,"v":-15},{"t":7106,"v":-10},{"t":7118,"v":-15},{"t":7160,"v":-5},{"t":7172,"v":-10},{"t":7200,"v":-15},{"t":7212,"v":-10},{"t":7250,"v":-5},{"t":7262,"v":-15},{"t":7270,"v":-10},{"t":7280,"v":-15},{"t":7300,"v":-10},{"t":7310,"v":-15},{"t":7318,"v":-10},{"t":7326,"v":-15},{"t":7334,"v":-10},{"t":7342,"v":-15},{"t":7350,"v":-10},{"t":7358,"v":-15},{"t":7366,"v":-10},{"t":7374,"v":-15},{"t":7382,"v":-10},{"t":7390,"v":-15},{"t":7398,"v":-10},{"t":7406,"v":-15},{"t":7414,"v":-10},{"t":7422,"v":-15},{"t":7430,"v":-10},{"t":7438,"v":-15},{"t":7446,"v":-10},{"t":7454,"v":-15},{"t":7475,"v":-10},{"t":7496,"v":-15},{"t":7517,"v":-10},{"t":7538,"v":-15},{"t":7559,"v":-10},{"t":7580,"v":-15},{"t":7601,"v":-10},{"t":7622,"v":-15},{"t":7643,"v":-10},{"t":7664,"v":-15},{"t":7685,"v":-10},{"t":7706,"v":-15},{"t":7727,"v":-10},{"t":7748,"v":-15},{"t":7769,"v":-10},{"t":7790,"v":-15},{"t":7811,"v":-10},{"t":7832,"v":-15},{"t":7853,"v":-10},{"t":7866,"v":-5},{"t":7874,"v":-15},{"t":7900,"v":-10},{"t":7915,"v":-15},{"t":7935,"v":-5},{"t":7941,"v":-10},{"t":7960,"v":-15},{"t":7975,"v":-10},{"t":7990,"v":-15},{"t":8005,"v":-5},{"t":8010,"v":-15},{"t":8015,"v":-5},{"t":8020,"v":-15},{"t":8025,"v":-10},{"t":8085,"v":-5},{"t":8100,"v":-10},{"t":8108,"v":-5},{"t":8125,"v":-10},{"t":8135,"v":-15},{"t":8150,"v":-10},{"t":8160,"v":-15},{"t":8170,"v":-10},{"t":8178,"v":-15},{"t":8186,"v":-10},{"t":8194,"v":-15},{"t":8202,"v":-10},{"t":8210,"v":-15},{"t":8218,"v":-10},{"t":8226,"v":-15},{"t":8234,"v":-10},{"t":8242,"v":-15},{"t":8260,"v":-10},{"t":8280,"v":-15},{"t":8290,"v":-10},{"t":8300,"v":-15},{"t":8310,"v":-10},{"t":8320,"v":-15},{"t":8330,"v":-10},{"t":8340,"v":-15},{"t":8350,"v":-10},{"t":8360,"v":-15},{"t":8370,"v":-10},{"t":8398,"v":-15},{"t":8426,"v":-10},{"t":8454,"v":-15},{"t":8482,"v":-10},{"t":8510,"v":-15},{"t":8538,"v":-10},{"t":8566,"v":-15},{"t":8594,"v":-10},{"t":8622,"v":-15},{"t":8650,"v":-10},{"t":8670,"v":-15},{"t":8690,"v":-10},{"t":8718,"v":-15},{"t":8740,"v":-10},{"t":8750,"v":-15},{"t":8760,"v":-15}
]
},
"encoding": {
  "x": {"field": "t", "type": "quantitative", "scale": {"domain": [0, 8760], "nice": false, "zero": false},
        "axis": {"title": "Time [h]", "values": [0,1000,2000,3000,4000,5000,6000,7000,8000,8760], "format": "d", "labelFlush": false, "labelOverlap": false, "grid": true, "tickSize": -6, "labelPadding": 14, "titlePadding": 4}},
  "y": {"field": "v", "type": "quantitative", "scale": {"domain": [-20, 180], "nice": false, "zero": false},
        "axis": {"title": "Layer temperatures [°C] & Storage level [%]", "values": [-20,0,20,40,60,80,100,120,140,160,180], "labelOverlap": false, "grid": true, "tickSize": -10, "labelPadding": 15, "titleFontSize": 14.5, "titlePadding": 3}}
},
"layer": [
  {"data": {"name": "temps"}, "mark": {"type": "line", "strokeWidth": 1},
   "encoding": {"color": {"field": "s", "type": "nominal",
     "scale": {"domain": ["top","3/4","middle","1/4","bottom","level","op"], "range": ["#3a9ad9","#f5a58c","#f4b940","#a867b8","#72b043","#ff2b2b","#1a1a1a"]},
     "legend": {"title": null, "orient": "none", "legendX": 13, "legendY": 7, "padding": 3.5, "strokeColor": "#262626", "fillColor": "white", "symbolType": "M-1,0L5,0", "symbolSize": 144, "symbolStrokeWidth": 1.5, "symbolOpacity": 0.75, "labelFont": "Liberation Sans", "labelFontSize": 10.75, "labelColor": "#000000", "labelOffset": 28, "rowPadding": 2.5, "labelLimit": 400,
       "labelExpr": "datum.label == 'top' ? 'Temperature top' : datum.label == '3/4' ? 'Temperature 3/4' : datum.label == 'middle' ? 'Temperature middle' : datum.label == '1/4' ? 'Temperature 1/4' : datum.label == 'bottom' ? 'Temperature bottom' : datum.label == 'level' ? 'Storage level' : 'Operation mode (-5=off, -10=discharge, -15=charge)'"}}}},
  {"data": {"name": "op"}, "mark": {"type": "line", "interpolate": "step-after", "strokeWidth": 1},
   "encoding": {"color": {"datum": "op"}}}
]
}
